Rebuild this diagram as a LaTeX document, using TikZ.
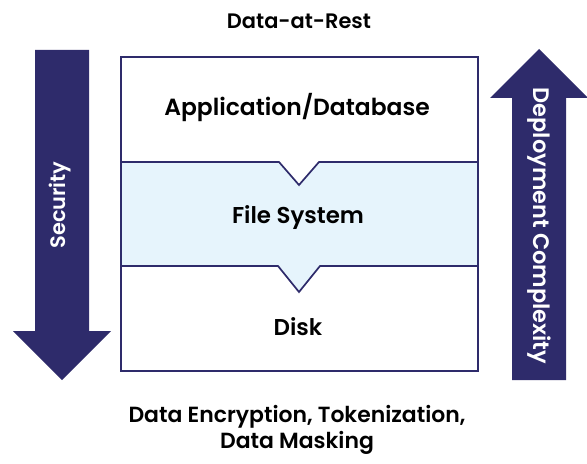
\documentclass[tikz,border=0pt]{standalone}
\usepackage{fontspec}
\setmainfont{Poppins}[BoldFont={Poppins SemiBold}]
\definecolor{navy}{HTML}{2E2B6B}
\definecolor{paleblue}{HTML}{E6F4FC}
\newcommand{\fsz}[1]{\fontsize{#1}{26}\selectfont}
\begin{document}
\begin{tikzpicture}[x=1bp,y=-1bp,
  lbl/.style={font=\bfseries, text=black, inner sep=0pt, align=center},
  wlbl/.style={font=\bfseries, text=white, inner sep=0pt},
  edge/.style={draw=navy, line width=1.7bp, line join=miter}]
\useasboundingbox (0,0) rectangle (587,464);
% left arrow (Security, pointing down)
\fill[navy] (35,50) -- (89,50) -- (89,331) -- (111,331) -- (62,380) -- (13,331) -- (35,331) -- cycle;
% right arrow (Deployment Complexity, pointing up)
\fill[navy] (512,380) -- (566,380) -- (566,98) -- (588,98) -- (539,49) -- (490,98) -- (512,98) -- cycle;
% middle layer fill
\fill[paleblue] (121,162) -- (279,162) -- (299,185) -- (319,162) -- (478,162) -- (478,266) -- (320,266) -- (299,292) -- (278,266) -- (121,266) -- cycle;
% dividers
\draw[edge] (121,162) -- (279,162) -- (299,185) -- (319,162) -- (478,162);
\draw[edge] (121,266) -- (278,266) -- (299,292) -- (320,266) -- (478,266);
% outer box
\draw[edge] (121,57) rectangle (478,371);
% labels
\node[lbl, font=\bfseries\fsz{21}] (title) at (299,21) {Data-at-Rest};
\node[lbl, font=\bfseries\fsz{23.5}] (app) at (297,108) {Application/Database};
\node[lbl, font=\bfseries\fsz{23}] (fs) at (298,218) {File System};
\node[lbl, font=\bfseries\fsz{23}] (disk) at (298,327) {Disk};
\node[lbl, font=\bfseries\fsz{22}] (methods) at (297,430) {Data Encryption, Tokenization,\\Data Masking};
\node[wlbl, font=\bfseries\fsz{21}, rotate=90] (sec) at (60,205) {Security};
\node[wlbl, font=\bfseries\fsz{22.5}, rotate=-90] (dep) at (539,226) {Deployment Complexity};
\end{tikzpicture}
\end{document}
